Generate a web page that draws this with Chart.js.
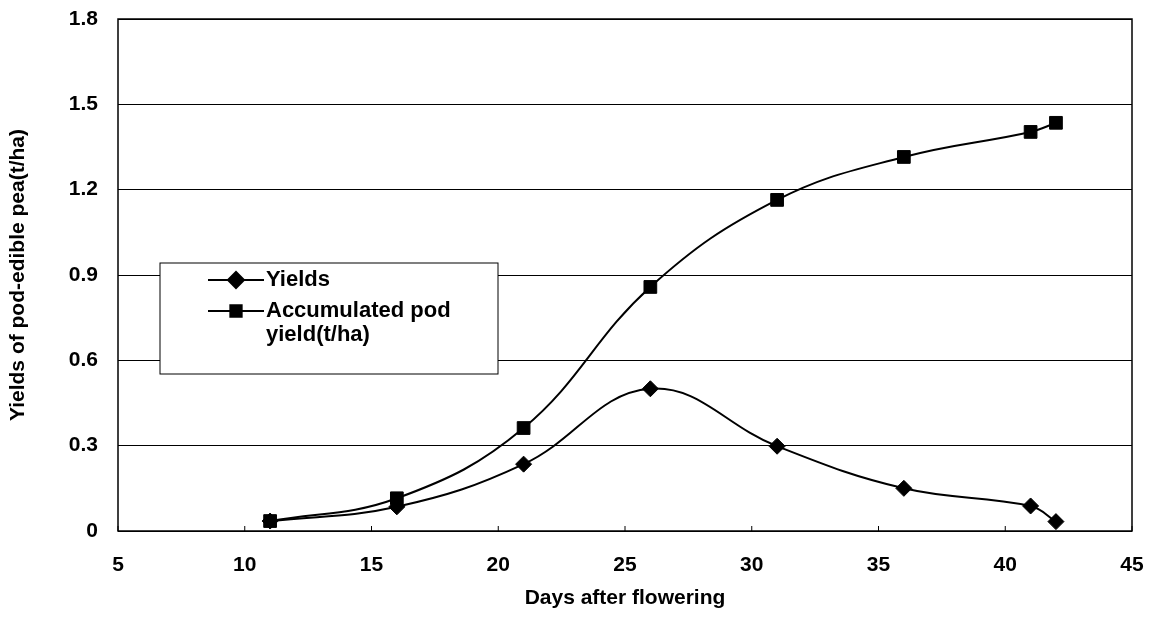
<!DOCTYPE html>
<html lang="en">
<head>
  <meta charset="UTF-8">
  <title>Yields of pod-edible pea</title>
  <style>
    body {
      margin: 0;
      background: #ffffff;
    }
    #wrap {
      width: 1155px;
      height: 623px;
    }
  </style>
</head>
<body>
  <div id="wrap">
    <canvas id="peaChart" width="1155" height="623"></canvas>
  </div>

  <script src="https://cdn.jsdelivr.net/npm/chart.js@4.4.1/dist/chart.umd.min.js"></script>
  <script>
    // values
    const days = [11, 16, 21, 26, 31, 36, 41, 42];
    const yields = [0.035, 0.085, 0.235, 0.5, 0.298, 0.15, 0.088, 0.033];
    const accumulated = [0.035, 0.115, 0.362, 0.858, 1.164, 1.315, 1.403, 1.435];
    const seriesNames = ['Yields', 'Accumulated pod yield(t/ha)'];
    const legendLines = [['Yields'], ['Accumulated pod', 'yield(t/ha)']];
    const xTitle = 'Days after flowering';
    const yTitle = 'Yields of pod-edible pea(t/ha)';

    const FONT = "'Liberation Sans', Arial, sans-serif";

    function toPoints(xs, ys) {
      return xs.map((x, i) => ({ x: x, y: ys[i] }));
    }

    // box around plot area + small inward ticks on the x axis
    const frame = {
      id: 'frame',
      afterDatasetsDraw(chart) {
        const ctx = chart.ctx;
        const a = chart.chartArea;
        ctx.save();
        ctx.strokeStyle = '#000';
        ctx.lineWidth = 1.5;
        ctx.strokeRect(a.left, a.top, a.right - a.left, a.bottom - a.top);
        ctx.lineWidth = 1;
        chart.scales.x.ticks.forEach(t => {
          const px = chart.scales.x.getPixelForValue(t.value);
          ctx.beginPath();
          ctx.moveTo(px, a.bottom);
          ctx.lineTo(px, a.bottom - 5);
          ctx.stroke();
        });
        ctx.restore();
      }
    };

    // legend box sitting inside the plot, like the original
    const boxLegend = {
      id: 'boxLegend',
      afterDraw(chart) {
        const ctx = chart.ctx;
        const a = chart.chartArea;
        const bx = a.left + 42, by = a.top + 244, bw = 338, bh = 111;
        ctx.save();
        ctx.fillStyle = '#fff';
        ctx.fillRect(bx, by, bw, bh);
        ctx.strokeStyle = '#000';
        ctx.lineWidth = 1;
        ctx.strokeRect(bx, by, bw, bh);

        const rows = [by + 17, by + 48];
        chart.data.datasets.forEach((ds, i) => {
          const y = rows[i];
          ctx.strokeStyle = '#000';
          ctx.lineWidth = 2;
          ctx.beginPath();
          ctx.moveTo(bx + 48, y);
          ctx.lineTo(bx + 104, y);
          ctx.stroke();
          ctx.fillStyle = '#000';
          Chart.helpers.drawPoint(ctx, {
            pointStyle: ds.pointStyle,
            radius: 8,
            rotation: 0,
            borderWidth: 1
          }, bx + 76, y);
          ctx.font = 'bold 22px ' + FONT;
          ctx.textBaseline = 'middle';
          ctx.textAlign = 'left';
          legendLines[i].forEach((line, j) => {
            ctx.fillText(line, bx + 106, y + j * 24);
          });
        });
        ctx.restore();
      }
    };

    const ctx = document.getElementById('peaChart').getContext('2d');
    new Chart(ctx, {
      type: 'line',
      data: {
        datasets: [
          {
            label: seriesNames[0],
            data: toPoints(days, yields),
            borderColor: '#000',
            backgroundColor: '#000',
            borderWidth: 2,
            pointStyle: 'rectRot',
            pointRadius: 8,
            pointBorderWidth: 1,
            tension: 0.4,
            fill: false
          },
          {
            label: seriesNames[1],
            data: toPoints(days, accumulated),
            borderColor: '#000',
            backgroundColor: '#000',
            borderWidth: 2,
            pointStyle: 'rect',
            pointRadius: 9,
            pointBorderWidth: 1,
            tension: 0.4,
            fill: false
          }
        ]
      },
      options: {
        responsive: false,
        animation: false,
        layout: { padding: { top: 19, right: 23, left: 0, bottom: 0 } },
        plugins: {
          legend: { display: false },
          tooltip: { enabled: false }
        },
        scales: {
          x: {
            type: 'linear',
            min: 5,
            max: 45,
            ticks: {
              stepSize: 5,
              color: '#000',
              padding: 22,
              font: { family: FONT, size: 21, weight: 'bold' }
            },
            grid: { display: false, drawTicks: false },
            border: { display: false },
            title: {
              display: true,
              text: xTitle,
              color: '#000',
              padding: { top: 0, bottom: 12 },
              font: { family: FONT, size: 21, weight: 'bold' }
            },
            afterFit(scale) {
              scale.height = 92;
              scale.paddingLeft = 0;
              scale.paddingRight = 0;
            }
          },
          y: {
            min: 0,
            max: 1.8,
            ticks: {
              stepSize: 0.3,
              color: '#000',
              padding: 20,
              font: { family: FONT, size: 21, weight: 'bold' },
              callback: v => (v === 0 ? '0' : v.toFixed(1))
            },
            grid: { color: '#000', lineWidth: 1, drawTicks: false },
            border: { display: false },
            title: {
              display: true,
              text: yTitle,
              color: '#000',
              padding: { top: 6, bottom: 0 },
              font: { family: FONT, size: 21, weight: 'bold' }
            },
            afterFit(scale) {
              scale.width = 118;
              scale.paddingTop = 0;
              scale.paddingBottom = 0;
            }
          }
        }
      },
      plugins: [frame, boxLegend]
    });
  </script>
</body>
</html>
